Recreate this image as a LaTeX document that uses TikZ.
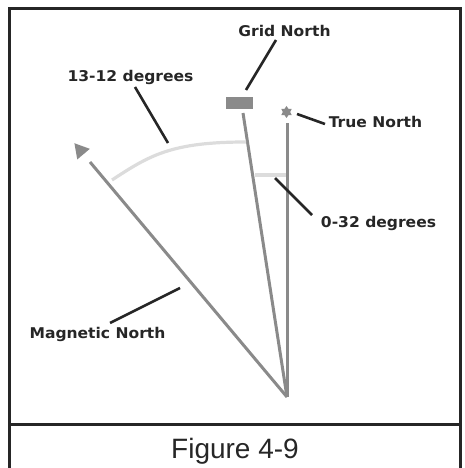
\documentclass[tikz,border=0pt]{standalone}
\usepackage{fontspec}
\setmainfont{Liberation Sans}
\newfontfamily\labelfont[FakeStretch=1.05]{DejaVu Sans}
\usepackage{tikz}
\usetikzlibrary{shapes.geometric}
\definecolor{linegray}{HTML}{8A8A8A}
\definecolor{arcgray}{HTML}{DCDCDC}
\definecolor{inkdark}{HTML}{262626}

\begin{document}
\begin{tikzpicture}[x=1pt,y=-1pt,
 lbl/.style={font=\labelfont\bfseries\fontsize{14.8}{16}\selectfont,text=inkdark,inner sep=0pt,anchor=base},
 northline/.style={draw=linegray,line width=3pt},
 anglearc/.style={draw=arcgray,line width=3.2pt},
 leader/.style={draw=inkdark,line width=2.6pt},
 frameline/.style={draw=inkdark,line width=3pt}
]
\useasboundingbox (0,0) rectangle (464,468);
% frame and caption
\draw[frameline] (9.5,470) -- (9.5,8.5) -- (460.5,8.5) -- (460.5,470);
\draw[frameline] (9.5,424) -- (460.5,424);
\node[font=\fontsize{28}{30}\selectfont,text=inkdark,inner sep=0pt,anchor=base] (caption) at (235,458) {Figure 4-9};

% the three norths
\coordinate (base) at (287,397);
\coordinate (trueend) at (287,123);
\coordinate (gridend) at (243,113);
\coordinate (magend) at (90,162);
\node[star,star points=6,star point ratio=1.6,minimum size=12pt,inner sep=0pt,fill=linegray] (truestar) at (286.5,112) {};
\node[rectangle,minimum width=27pt,minimum height=12pt,inner sep=0pt,fill=linegray] (gridbox) at (239.5,103) {};
\node[regular polygon,regular polygon sides=3,rotate=40,minimum size=19pt,inner sep=0pt,fill=linegray] (magtip) at (80.5,150.5) {};
\draw[northline] (base) -- (trueend);
\draw[northline] (base) -- (gridend);
\draw[northline] (base) -- (magend);

% angles
\coordinate (arcstart) at (112,180);
\coordinate (arcend) at (246,142);
\coordinate (smallstart) at (255,175);
\coordinate (smallend) at (286,175);
\draw[anglearc] (arcstart) .. controls (150,155) and (172,142) .. (arcend);
\draw[anglearc] (smallstart) -- (smallend);

% labels
\node[lbl] (gridlbl) at (284.5,36.5) {Grid North};
\node[lbl] (bigangle) at (130.5,82) {13-12 degrees};
\node[lbl] (truelbl) at (375.5,127.5) {True North};
\node[lbl] (smallangle) at (378.5,227) {0-32 degrees};
\node[lbl] (maglbl) at (97.5,338.5) {Magnetic North};

% leaders
\coordinate (gridfoot) at (276,40);  \coordinate (gridtip) at (246,90);
\coordinate (bigfoot) at (135,87);   \coordinate (bigtip) at (168,143);
\coordinate (truefoot) at (325,124); \coordinate (truetip) at (297,114);
\coordinate (smallfoot) at (312,215); \coordinate (smalltip) at (275,178);
\coordinate (magfoot) at (110,323);  \coordinate (magtippt) at (180,288);
\draw[leader] (gridfoot) -- (gridtip);
\draw[leader] (bigfoot) -- (bigtip);
\draw[leader] (truefoot) -- (truetip);
\draw[leader] (smallfoot) -- (smalltip);
\draw[leader] (magfoot) -- (magtippt);
\end{tikzpicture}
\end{document}
